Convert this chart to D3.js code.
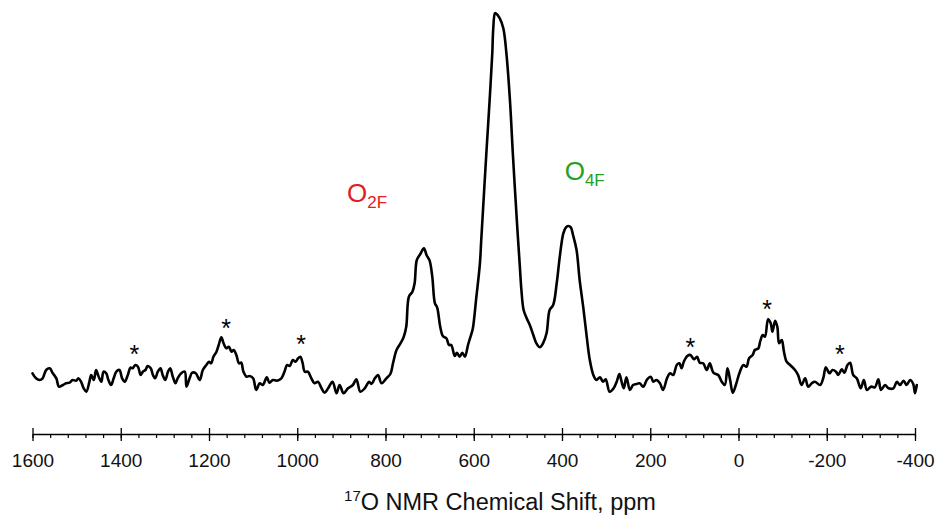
<!DOCTYPE html>
<html>
<head>
<meta charset="utf-8">
<script src="https://cdn.jsdelivr.net/npm/d3@7"></script>
<style>
  html, body { margin: 0; padding: 0; background: #fff; }
  svg { display: block; font-family: "Liberation Sans", Arial, sans-serif; }
</style>
</head>
<body>
<svg id="chart" width="942" height="516"></svg>
<script>
// Chemical shift (ppm) and intensity (arbitrary units)
const ppm = [1600,1592,1584,1577,1569,1561,1554,1546,1540,1531,1524,1516,1509,1501,1496,1490,1484,1478,1471,1467,1461,1456,1450,1444,1439,1433,1428,1422,1416,1410,1403,1397,1391,1384,1378,1373,1367,1361,1355,1350,1344,1339,1332,1327,1322,1316,1310,1305,1299,1293,1288,1282,1276,1271,1263,1255,
1251,1244,1238,1230,1221,1214,1206,1200,1195,1190,1183,1178,1172,1167,1161,1155,1149,1144,1138,1132,1127,1122,1115,1108,1100,1093,1085,1078,1069,1063,1055,1046,1036,1029,1023,1017,1010,1004,998,993,988,983,976,968,961,953,945,938,930,920,911,
904,895,885,874,866,857,847,837,832,824,817,809,798,789,783,775,766,759,753,747,739,734,729,721,713,707,700,694,688,683,676,670,662,656,651,643,638,632,626,620,613,605,602,594,586,583,571,564,558,556,552,550,541,533,526,518,511,501,496,492,487,480,473,465,458,450,443,435,428,420,412,405,397,391,386,380,375,367,360,352,344,337,329,322,314,307,301,292,283,276,270,265,260,254,246,239,231,224,216,207,199,193,186,178,171,162,155,148,140,134,129,124,116,109,101,94,88,80,72,65,57,46,38,31,25,19,13,6,-2,-11,-18,-24,-32,-37,-45,-49,-55,-60,-67,-73,-77,-83,-88,-92,-98,-103,-109,-117,-128,-135,-143,-151,-158,-166,-173,-185,-192,-198,-206,-213,-221,-226,-234,-240,-247,-253,-260,-268,-277,-284,-291,-300,-309,-317,-323,-332,-340,-351,-359,-366,-374,-381,-389,-396,-400,-404];
const intensity = [26.7,21.7,20,21.7,30,31.7,26.7,21.7,13.3,15,16.7,17.3,20,19.3,21.7,18.3,11.7,8.3,18.3,25,20,30,23.3,18.3,28.3,26.7,20,15,21.7,28.3,30,21.7,18.3,25,32.3,31.7,35,33.3,25,28.3,30,34,31.7,25,21.7,28.3,31.7,25,20,28.3,31.7,23.3,16.7,21.7,26.7,28.3,
13.3,21.7,27.3,26.7,20,30,35,38.3,36.7,43.3,48.3,55,62.7,56.7,51.7,53.3,48.3,50,45,36.7,37.3,28.3,23.3,24,21.7,10,16.7,15,22.7,17.3,20,19.3,21.7,28.3,35,34,40,38.3,41.7,43.3,37.3,28.3,28.3,21.7,16.7,18.3,11.7,7.3,11.7,18.3,6.7,
15,6.7,11.7,15,20.7,8.3,11.7,18.3,16,21.7,25,16.7,21.7,26,36.7,50,56.7,62.7,73.3,103.3,108.3,116.7,140,146,151.7,145,139.3,123.3,96.7,92.7,73.3,64,61.7,55,55,44,47.3,43.3,47.3,43.3,55,66.7,71.7,103.3,136.7,160,250,300,346.7,370,386.7,386.7,381.7,371.7,346.7,300,243.3,170,136.7,110,90,81.7,75,65,56.7,52.7,56.7,66.7,90,95,116.7,143.3,166.7,172.7,174,172.7,165,150,120,93.3,63.3,40,25,20,22.7,18.3,20.7,8.3,11.7,18.3,26,18.3,11.7,22.7,10,15,16,16.7,13.3,20.7,23.3,18.3,20,16.7,10,21.7,26.7,25,35,36.7,31.7,38.3,44,45,40.7,43.3,37.3,36.7,30,36.7,27.3,25,18.3,15,31.7,20,7.3,15,26.7,35,33.3,41.7,45,50,51.7,58.3,65,63.3,80.7,76.7,68.3,79.3,73.3,56.7,60,48.3,38.3,35,30,25,15,21.7,13.3,16.7,18.3,15,21.7,32.7,26.7,30,28.3,25,30.7,27.3,35,37.3,25,21.7,11.7,20,10,13.3,12.7,20.7,10,15,11.7,11.7,18.3,15,19.3,15,20,16,6.7,15];

// Spinning sideband markers (*)
const starPpm = [1369, 1161, 991, 109, -65, -230];
const starLevel = [51.7, 78.3, 61.7, 59.3, 97.3, 51.7];

// Axis ticks
const majorTicks = [1600, 1400, 1200, 1000, 800, 600, 400, 200, 0, -200, -400];
const minorTicks = d3.range(1600, -401, -40);

// Site labels
const siteLabels = [
  { base: "O", sub: "2F", ppm: 887, level: 198, color: "#e0201e" },
  { base: "O", sub: "4F", ppm: 394, level: 220, color: "#25a025" }
];

const svg = d3.select("#chart");
const x = d3.scaleLinear().domain([1600, -400]).range([32.5, 915]);
const y = d3.scaleLinear().domain([0, 400]).range([400, 0]);

const pts = ppm.map((p, i) => [p, intensity[i]]);

// spectrum line
svg.append("path")
  .datum(pts)
  .attr("fill", "none")
  .attr("stroke", "#000")
  .attr("stroke-width", 2.6)
  .attr("stroke-linejoin", "round")
  .attr("stroke-linecap", "round")
  .attr("d", d3.line().x(d => x(d[0])).y(d => y(d[1])).curve(d3.curveCatmullRom.alpha(0.5)));

// axis
const axisY = 434;
const gMinor = svg.append("g").attr("transform", `translate(0,${axisY})`)
  .call(d3.axisBottom(x).tickValues(minorTicks).tickSizeInner(4).tickSizeOuter(0).tickFormat(""));
gMinor.select(".domain").remove();
gMinor.selectAll("line").attr("stroke", "#000").attr("stroke-width", 1.2);

const gMajor = svg.append("g").attr("transform", `translate(0,${axisY})`)
  .call(d3.axisBottom(x).tickValues(majorTicks).tickSizeInner(7).tickSizeOuter(0).tickPadding(20).tickFormat(d => String(d)));
gMajor.select(".domain").attr("stroke", "#000").attr("stroke-width", 1.3);
gMajor.selectAll(".tick line").attr("y1", -6).attr("stroke", "#000").attr("stroke-width", 1.3);
gMajor.selectAll(".tick text")
  .attr("font-family", "'Liberation Sans', Arial, sans-serif")
  .attr("font-size", 19).attr("fill", "#111").attr("dy", "0.71em").attr("y", 20);

// axis title
const title = svg.append("text")
  .attr("x", 500).attr("y", 510)
  .attr("text-anchor", "middle")
  .attr("font-size", 23.5).attr("fill", "#111");
title.append("tspan").attr("font-size", 15).attr("dy", -9).text("17");
title.append("tspan").attr("dy", 9).text("O NMR Chemical Shift, ppm");

// sideband stars
svg.selectAll(".star")
  .data(starPpm)
  .enter().append("text")
  .attr("class", "star")
  .attr("x", d => x(d))
  .attr("y", (d, i) => y(starLevel[i]) + 15)
  .attr("text-anchor", "middle")
  .attr("font-size", 25)
  .attr("fill", "#000")
  .text("*");

// site labels
siteLabels.forEach(l => {
  const t = svg.append("text")
    .attr("x", x(l.ppm)).attr("y", y(l.level))
    .attr("font-size", 26).attr("fill", l.color);
  t.append("tspan").text(l.base);
  t.append("tspan").attr("font-size", 17).attr("dy", 6).text(l.sub);
});
</script>
</body>
</html>
